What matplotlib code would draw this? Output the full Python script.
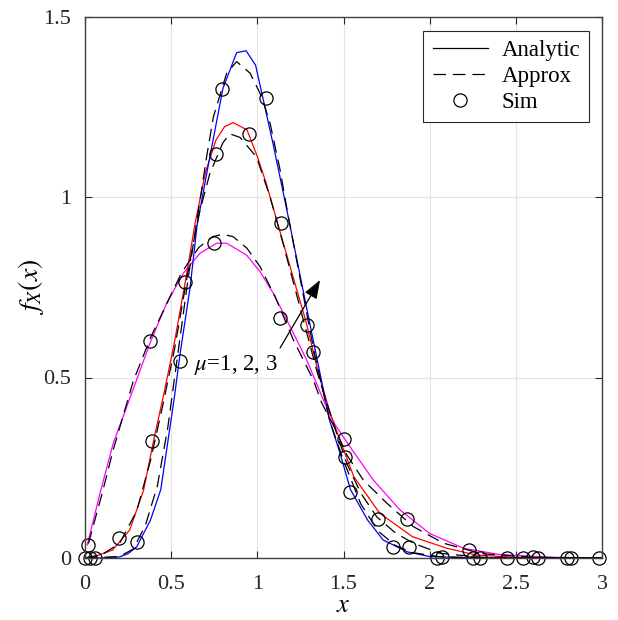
import numpy as np
import matplotlib
matplotlib.use("Agg")
import matplotlib.pyplot as plt

plt.rcParams['font.family'] = ['Liberation Serif', 'DejaVu Serif']
plt.rcParams['mathtext.fontset'] = 'stix'
plt.rcParams['lines.scale_dashes'] = False

#---------- curvas analiticas ----------
x_mu1 = [0.013, 0.087, 0.164, 0.27, 0.377, 0.474, 0.571, 0.667, 0.764, 0.822, 0.938, 1.016, 1.093,
         1.19, 1.287, 1.383, 1.45, 1.538, 1.673, 1.828, 2.0, 2.196, 2.4, 2.7, 3.0]
y_mu1 = [0.036, 0.179, 0.318, 0.455, 0.595, 0.706, 0.789, 0.844, 0.872, 0.872, 0.839, 0.793, 0.733,
         0.641, 0.548, 0.438, 0.37, 0.308, 0.216, 0.133, 0.068, 0.027, 0.01, 0.002, 0.0]

x_mu2 = [0.0, 0.05, 0.16, 0.26, 0.34, 0.40, 0.46, 0.52, 0.58, 0.64, 0.70, 0.76, 0.81, 0.86, 0.94,
         1.0, 1.05, 1.11, 1.19, 1.28, 1.36, 1.43, 1.56, 1.71, 1.9, 2.1, 2.27, 2.5, 3.0]
y_mu2 = [0.0, 0.003, 0.022, 0.078, 0.188, 0.33, 0.46, 0.60, 0.76, 0.93, 1.07, 1.158, 1.195, 1.206, 1.186,
         1.112, 1.04, 0.94, 0.807, 0.659, 0.502, 0.39, 0.225, 0.124, 0.059, 0.027, 0.008, 0.002, 0.0]

x_mu3 = [0.0, 0.1, 0.2, 0.25, 0.3, 0.38, 0.44, 0.48, 0.52, 0.55, 0.61, 0.65, 0.72, 0.80, 0.88, 0.935,
         0.99, 1.09, 1.16, 1.19, 1.30, 1.42, 1.48, 1.54, 1.64, 1.73, 1.87, 2.0, 2.2, 2.5, 3.0]
y_mu3 = [0.0, 0.0, 0.003, 0.012, 0.031, 0.105, 0.19, 0.32, 0.45, 0.56, 0.75, 0.92, 1.10, 1.30, 1.40, 1.405,
         1.365, 1.15, 0.99, 0.92, 0.66, 0.38, 0.29, 0.19, 0.105, 0.05, 0.017, 0.004, 0.001, 0.0, 0.0]

#---------- aproximaciones ----------
xa_mu1 = [0.02, 0.1, 0.164, 0.28, 0.38, 0.46, 0.56, 0.66, 0.74, 0.80, 0.86, 0.94, 1.016, 1.103, 1.209,
          1.325, 1.374, 1.45, 1.52, 1.615, 1.751, 1.905, 2.08, 2.3, 2.6, 3.0]
ya_mu1 = [0.04, 0.18, 0.30, 0.49, 0.61, 0.69, 0.79, 0.86, 0.89, 0.897, 0.89, 0.858, 0.807, 0.724, 0.604,
          0.493, 0.429, 0.36, 0.285, 0.216, 0.152, 0.087, 0.041, 0.012, 0.002, 0.0]

xa_mu2 = [0.0, 0.1, 0.2, 0.3, 0.38, 0.45, 0.52, 0.6, 0.66, 0.725, 0.80, 0.84, 0.90, 0.996, 1.074, 1.15,
          1.25, 1.35, 1.45, 1.519, 1.6, 1.693, 1.8, 1.905, 2.06, 2.3, 2.6, 3.0]
ya_mu2 = [0.0, 0.01, 0.04, 0.13, 0.27, 0.42, 0.58, 0.80, 0.95, 1.066, 1.15, 1.175, 1.165, 1.11, 1.0, 0.87,
          0.69, 0.51, 0.36, 0.262, 0.18, 0.114, 0.07, 0.041, 0.013, 0.002, 0.0, 0.0]

xa_mu3 = [0.0, 0.2, 0.28, 0.35, 0.42, 0.48, 0.54, 0.6, 0.667, 0.706, 0.745, 0.822, 0.88, 0.958, 1.025,
          1.074, 1.132, 1.18, 1.25, 1.33, 1.42, 1.5, 1.6, 1.7, 1.8, 1.9, 2.05, 2.3, 2.6, 3.0]
ya_mu3 = [0.0, 0.004, 0.025, 0.09, 0.2, 0.36, 0.57, 0.78, 0.99, 1.112, 1.222, 1.343, 1.375, 1.343, 1.278,
          1.204, 1.075, 0.945, 0.77, 0.57, 0.38, 0.27, 0.15, 0.075, 0.035, 0.015, 0.004, 0.0, 0.0, 0.0]

#---------- simulacion ----------
sim_x = [0.0, 0.02, 0.03, 0.058, 0.20, 0.30, 0.39, 0.38, 0.55, 0.58, 0.75, 0.76, 0.795, 0.95, 1.05,
         1.135, 1.13, 1.29, 1.325, 1.50, 1.51, 1.54, 1.70, 1.87, 1.79, 1.88, 2.04, 2.07, 2.23, 2.25,
         2.29, 2.45, 2.54, 2.60, 2.63, 2.795, 2.82, 2.98]
sim_y = [0.0, 0.035, 0.0, 0.0, 0.055, 0.045, 0.325, 0.60, 0.547, 0.764, 0.872, 1.12, 1.298, 1.174, 1.273,
         0.929, 0.664, 0.645, 0.571, 0.33, 0.279, 0.184, 0.107, 0.107, 0.03, 0.031, 0.0, 0.004, 0.022, 0.0,
         0.0, 0.0, 0.0, 0.003, 0.0, 0.0, 0.0, 0.0]

xticks = [0, 0.5, 1, 1.5, 2, 2.5, 3]
xtick_labels = ['0', '0.5', '1', '1.5', '2', '2.5', '3']
yticks = [0, 0.5, 1, 1.5]
ytick_labels = ['0', '0.5', '1', '1.5']

fig = plt.figure(figsize=(6.18, 6.2), dpi=100)
ax = fig.add_axes([85/618, 62/620, 517/618, 541.5/620])

dash = (9, 5)
lw = 0.9
ax.plot(x_mu1, y_mu1, color='#ff00ff', lw=lw)
ax.plot(x_mu2, y_mu2, color='#ff0000', lw=lw)
ax.plot(x_mu3, y_mu3, color='#0000ff', lw=lw)
ax.plot(xa_mu1, ya_mu1, color='k', lw=lw, dashes=dash)
ax.plot(xa_mu2, ya_mu2, color='k', lw=lw, dashes=dash)
ax.plot(xa_mu3, ya_mu3, color='k', lw=lw, dashes=dash)
ax.plot(sim_x, sim_y, 'o', mfc='none', mec='k', ms=9.5, mew=0.9, clip_on=False)

# leyenda con entradas negras
h1, = ax.plot([], [], color='k', lw=lw)
h2, = ax.plot([], [], color='k', lw=lw, dashes=dash)
h3, = ax.plot([], [], 'o', mfc='none', mec='k', ms=9.5, mew=0.9)
leg = ax.legend([h1, h2, h3], ['Analytic', 'Approx', 'Sim'], loc='upper right',
                bbox_to_anchor=(0.975, 0.974), borderaxespad=0, fontsize=16.5,
                handlelength=2.4, fancybox=False, framealpha=1, edgecolor='#262626',
                labelspacing=0.22, borderpad=0.4, handletextpad=0.6)
leg.get_frame().set_linewidth(0.8)

# flecha y texto
ax.annotate('', xy=(1.364, 0.770), xytext=(1.132, 0.582),
            arrowprops=dict(arrowstyle='-|>,head_length=0.95,head_width=0.35', color='k',
                            lw=0.9, mutation_scale=12, shrinkA=0, shrinkB=0))
ax.text(0.633, 0.52, r'$\mu$=1, 2, 3', fontsize=16.5, ha='left', va='baseline')

ax.set_xlim(0, 3)
ax.set_ylim(0, 1.5)
ax.set_xticks(xticks)
ax.set_xticklabels(xtick_labels)
ax.set_yticks(yticks)
ax.set_yticklabels(ytick_labels)
ax.tick_params(direction='in', length=5, width=0.8, colors='#262626', labelsize=16,
               top=True, right=True)
ax.tick_params(axis='x', pad=12)
ax.tick_params(axis='y', pad=10)
ax.grid(True, color='#e3e3e3', lw=0.8)
ax.set_axisbelow(True)
for s in ax.spines.values():
    s.set_color('#404040')
    s.set_linewidth(1.0)

ax.set_xlabel('$x$', fontsize=19, labelpad=1)
ax.set_ylabel('$f_X(x)$', fontsize=20, labelpad=-2)

fig.savefig('out.png', dpi=100)
